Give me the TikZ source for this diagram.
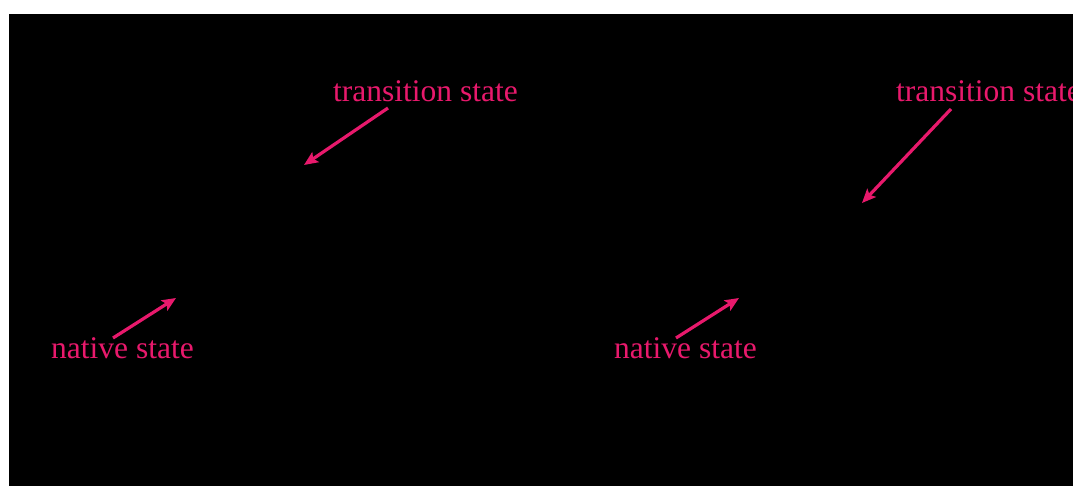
\documentclass[tikz,border=0pt]{standalone}
\usepackage{fontspec}
\setmainfont{Liberation Serif}
\usetikzlibrary{arrows.meta}
\definecolor{pinkc}{HTML}{E8196C}
\begin{document}
\begin{tikzpicture}[x=1pt,y=-1pt,
  lbl/.style={anchor=base west,inner sep=0pt,text=pinkc,font=\fontsize{31.5}{36}\selectfont},
  arr/.style={draw=pinkc,line width=3.2pt,-{Stealth[length=14pt,width=12pt,inset=3pt]}}]
\useasboundingbox (0,0) rectangle (1073,486);
\fill[white] (0,0) rectangle (1073,486);
\begin{scope}
\clip (0,0) rectangle (1073,486);
\fill[black] (9,14) rectangle (1073,486);
\node[lbl] (ts1) at (333,102) {transition state};
\node[lbl] (ts2) at (896,102) {transition state};
\node[lbl] (ns1) at (51,358) {native state};
\node[lbl] (ns2) at (614,358) {native state};
\end{scope}
\coordinate (a1s) at (388,108);
\coordinate (a1e) at (304,165);
\coordinate (a2s) at (951,109);
\coordinate (a2e) at (862,203);
\coordinate (a3s) at (113,338);
\coordinate (a3e) at (176,298);
\coordinate (a4s) at (676,338);
\coordinate (a4e) at (739,298);
\draw[arr] (a1s) -- (a1e);
\draw[arr] (a2s) -- (a2e);
\draw[arr] (a3s) -- (a3e);
\draw[arr] (a4s) -- (a4e);
\end{tikzpicture}
\end{document}
